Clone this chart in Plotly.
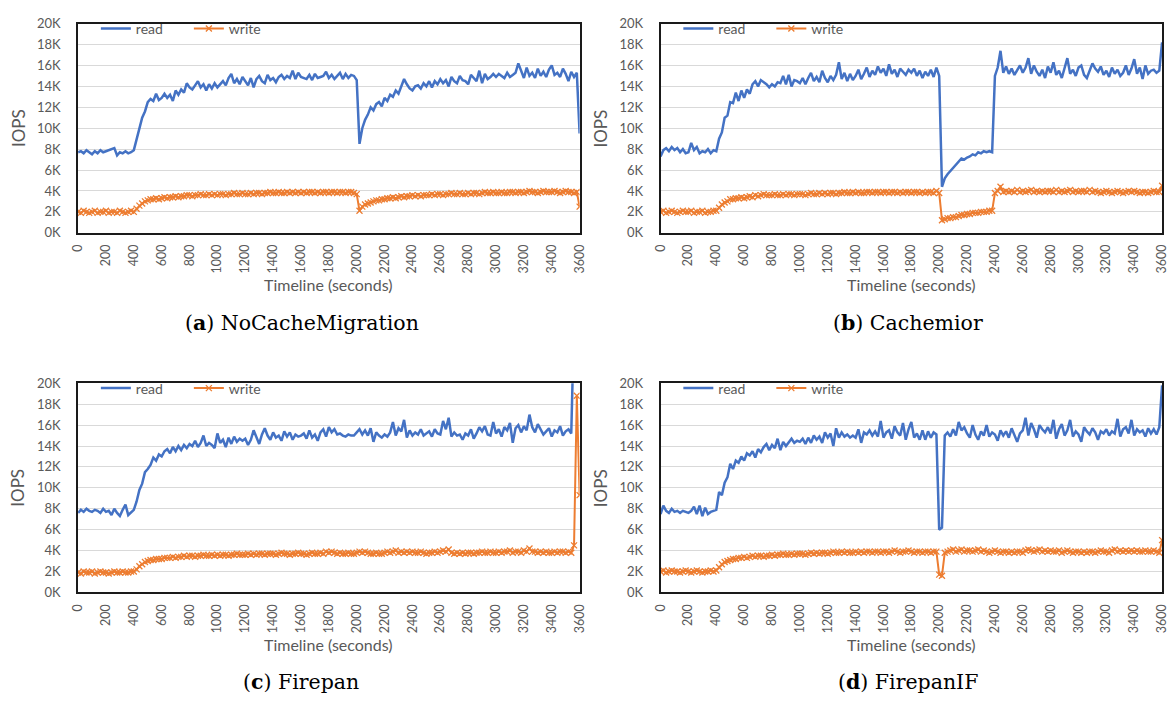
import plotly.graph_objects as go

W, H = 1176, 704

# time axis (seconds), one sample every 20 s
TIME = list(range(0, 3601, 20))
X_TICKS = list(range(0, 3601, 200))
Y_TICKS = list(range(0, 20001, 2000))
Y_TICK_TEXT = [f"{v // 1000}K" for v in Y_TICKS]

# (a) NoCacheMigration
a_read = [
    7700, 7800, 7600, 7900, 7700, 7500, 7800, 7600, 7900, 7700,
    7800, 7900, 8000, 8100, 7400, 7700, 7600, 7800, 7600, 7700,
    7900, 9000, 10000, 11000, 11600, 12500, 12800, 12600, 13300, 12700,
    12900, 13300, 12900, 13200, 12600, 13600, 13200, 13700, 13400, 14300,
    13900, 13700, 14100, 14500, 13900, 14200, 13600, 14200, 13800, 14300,
    13900, 14200, 14500, 14100, 14800, 15200, 14300, 14700, 14200, 14900,
    14500, 14100, 14800, 13900, 14700, 15000, 14500, 14300, 15100, 14600,
    14800, 14400, 14900, 15100, 14700, 15000, 14800, 15500, 14700, 15300,
    14900, 14800, 14700, 15100, 14600, 15200, 14800, 14900, 15000, 15400,
    14800, 15100, 14700, 15000, 15300, 14700, 15200, 14800, 15100, 15000,
    14600, 8500, 10000, 10800, 11300, 12000, 11700, 12300, 12500, 12100,
    12900, 12600, 13200, 13000, 13600, 13300, 14000, 14700, 14200, 13800,
    13600, 14000, 14100, 13800, 14300, 14000, 14500, 13900, 14500, 14200,
    14700, 14300, 14600, 14000, 14900, 14500, 14300, 15000, 14600, 14500,
    14200, 15100, 14800, 14500, 15500, 14300, 15200, 14700, 14900, 15200,
    14900, 15200, 15000, 14800, 15300, 14900, 15100, 15300, 16200, 15500,
    14800, 15800, 15000, 15300, 14800, 15700, 15000, 15400, 14900, 15600,
    16000, 15100, 15300, 14900, 15700, 15200, 14500, 15400, 14900, 15300,
    9500,
]
a_write = [
    2000, 1900, 2100, 2000, 1900, 2000, 2100, 1900, 2000, 2000,
    2100, 1900, 2000, 2000, 1900, 2100, 2000, 1900, 2000, 2100,
    2000, 2300, 2600, 2800, 3000, 3100, 3200, 3200, 3300, 3200,
    3300, 3400, 3300, 3400, 3400, 3500, 3400, 3500, 3500, 3600,
    3600, 3500, 3600, 3600, 3700, 3600, 3600, 3700, 3600, 3700,
    3600, 3700, 3700, 3600, 3700, 3700, 3800, 3700, 3700, 3800,
    3700, 3700, 3800, 3700, 3800, 3800, 3700, 3800, 3800, 3900,
    3800, 3800, 3900, 3800, 3800, 3900, 3800, 3900, 3800, 3900,
    3800, 3900, 3800, 3900, 3900, 3800, 3900, 3800, 3900, 3900,
    3800, 3900, 3900, 3800, 3900, 3900, 3800, 3900, 3900, 3800,
    3700, 2100, 2500, 2700, 2800, 2900, 3000, 3100, 3100, 3200,
    3200, 3300, 3300, 3400, 3300, 3400, 3500, 3400, 3500, 3500,
    3600, 3500, 3600, 3500, 3600, 3600, 3600, 3700, 3600, 3700,
    3700, 3600, 3700, 3700, 3800, 3700, 3700, 3800, 3700, 3700,
    3800, 3700, 3800, 3800, 3700, 3800, 3900, 3800, 3800, 3900,
    3800, 3800, 3900, 3800, 3800, 3900, 3900, 3800, 3900, 3900,
    3800, 3900, 4000, 3900, 3900, 3800, 3900, 4000, 3900, 3900,
    3900, 4000, 3900, 3800, 3900, 4000, 3900, 3900, 3800, 3900,
    2500,
]

# (b) Cachemior
b_read = [
    7300, 7900, 8100, 7800, 8200, 7900, 8100, 7700, 8000, 7600,
    7700, 8600, 7900, 8200, 7600, 7800, 7700, 8000, 7600, 7900,
    7800, 9000, 9600, 11000, 11200, 12500, 12400, 13400, 12600, 13600,
    12900, 13700, 13300, 14200, 14500, 14000, 14600, 14400, 14200, 13900,
    14200, 14000, 14400, 14300, 15000, 14200, 15100, 14000, 14600, 14500,
    14300, 14800, 14200, 14800, 15300, 14500, 14900, 14400, 15500, 14800,
    14400, 15000, 14600, 15100, 16300, 14700, 15300, 14500, 15200, 14600,
    15000, 15600, 14700, 15200, 15800, 14900, 15500, 15100, 15900, 15300,
    15700, 15000, 16100, 15200, 15600, 14900, 15700, 15400, 15100, 15600,
    15300, 15700, 15000, 15500, 14800, 15400, 15000, 15600, 14900, 15800,
    15000, 4400, 5200, 5600, 5900, 6200, 6500, 6900, 7100, 7000,
    7200, 7300, 7500, 7400, 7700, 7600, 7800, 7700, 7800, 7700,
    15000, 15800, 17400, 15300, 15900, 15200, 15700, 15100, 15600, 16000,
    15300, 15800, 16700, 15200, 16000, 15400, 15000, 15600, 14800, 15900,
    15300, 16300, 15100, 15500, 14800, 15700, 16700, 15200, 15600, 15000,
    15800, 16000, 15100, 14800, 15500, 16200, 15700, 15400, 15900, 15100,
    15500, 14900, 15800, 15200, 15600, 15000, 15300, 16000, 15100, 15700,
    16600, 15200, 15800, 14700, 16000, 15200, 15500, 15600, 15300, 15500,
    18200,
]
b_write = [
    2000, 2100, 1900, 2000, 2100, 2000, 1900, 2000, 2100, 2000,
    2000, 2100, 1900, 2000, 2000, 2100, 1900, 2000, 2000, 2100,
    2100, 2400, 2700, 2900, 3000, 3200, 3200, 3300, 3300, 3400,
    3300, 3400, 3500, 3400, 3600, 3500, 3600, 3700, 3600, 3600,
    3600, 3700, 3600, 3600, 3700, 3600, 3700, 3700, 3600, 3700,
    3700, 3700, 3600, 3700, 3800, 3700, 3700, 3800, 3700, 3800,
    3700, 3800, 3800, 3700, 3800, 3800, 3900, 3800, 3800, 3900,
    3800, 3900, 3800, 3800, 3900, 3900, 3800, 3900, 3900, 3800,
    3900, 3900, 3800, 3900, 3900, 3800, 3900, 3800, 3900, 3900,
    3800, 3900, 3900, 3800, 3900, 3800, 3900, 3900, 3800, 4000,
    3800, 1200, 1300, 1400, 1400, 1500, 1500, 1600, 1700, 1700,
    1800, 1800, 1900, 1900, 1900, 2000, 2000, 2000, 2100, 2100,
    3800, 4000, 4400, 3900, 4000, 3900, 4000, 3900, 4100, 3900,
    4000, 3900, 4000, 4100, 3900, 4000, 3900, 4000, 3900, 4000,
    4000, 3900, 4100, 3900, 4000, 3900, 4000, 4100, 3900, 4000,
    3900, 4000, 4000, 3900, 4100, 3900, 4000, 3900, 3800, 3900,
    4000, 3900, 3800, 3900, 4000, 3900, 3800, 3900, 4000, 3900,
    4000, 3900, 3800, 3900, 3900, 3800, 3900, 4000, 3900, 3900,
    4500,
]

# (c) Firepan
c_read = [
    7600, 7900, 7700, 8000, 7800, 7700, 7900, 7800, 7600, 8000,
    7700, 7800, 7400, 8000, 7600, 7300, 7900, 8400, 7400, 7700,
    7900, 8700, 9800, 10400, 11500, 11800, 12200, 12900, 12600, 13200,
    13000, 13500, 13700, 13300, 13900, 13500, 14000, 13600, 14100, 13800,
    14200, 14000, 14500, 13900, 14300, 15000, 14000, 14300, 14100, 13800,
    15200, 14300, 14600, 13900, 14800, 14200, 14900, 14400, 14700, 14500,
    14700, 14100, 14600, 15500, 14800, 14200, 15100, 15700, 15000, 14600,
    15300, 14800, 15000, 14500, 15400, 14900, 15300, 14600, 15100, 14900,
    15000, 15200, 14700, 15500, 14800, 15100, 14500, 15300, 15600, 14900,
    15800, 15300, 15600, 15100, 15200, 15000, 14900, 15100, 15000, 15000,
    15300, 15600, 15100, 15500, 15000, 15700, 14400, 15300, 15000, 14800,
    15100, 14900, 15300, 16300, 15000, 15700, 15400, 16500, 14800, 15500,
    15000, 15300, 15100, 15600, 15000, 15200, 15400, 14900, 15600, 15200,
    15100, 16400, 15600, 16700, 14900, 15300, 15000, 15100, 14600, 15200,
    15000, 15600, 14700, 15200, 15800, 15400, 15900, 15100, 15000, 16300,
    15200, 15600, 14900, 15800, 15500, 16200, 14300, 15700, 16000, 15300,
    15900, 15500, 17000, 15800, 15300, 16100, 15600, 15100, 15400, 15700,
    14900, 15500, 15300, 15900, 15000, 15400, 15600, 15200, 26000, 30000,
    30000,
]
c_write = [
    1900, 1800, 2000, 1900, 1900, 2000, 1800, 1900, 2000, 1900,
    1900, 1800, 1900, 2000, 1900, 1900, 2000, 1900, 1900, 2000,
    2000, 2200, 2500, 2700, 2900, 3000, 3100, 3100, 3200, 3200,
    3200, 3300, 3300, 3300, 3400, 3300, 3400, 3400, 3500, 3400,
    3500, 3500, 3400, 3500, 3500, 3600, 3500, 3500, 3600, 3500,
    3600, 3500, 3600, 3600, 3500, 3600, 3600, 3700, 3600, 3600,
    3600, 3700, 3600, 3700, 3600, 3700, 3700, 3600, 3700, 3700,
    3700, 3600, 3700, 3800, 3700, 3700, 3600, 3700, 3700, 3800,
    3700, 3700, 3600, 3700, 3800, 3700, 3700, 3800, 3700, 3900,
    3800, 3900, 3800, 3700, 3800, 3700, 3700, 3800, 3700, 3700,
    3800, 3900, 3800, 3900, 3800, 3700, 3700, 3800, 3700, 3700,
    3800, 3900, 3800, 3900, 4000, 3800, 3900, 3800, 3900, 3800,
    3900, 3800, 3800, 3900, 3800, 3700, 3800, 3800, 3900, 3800,
    3900, 4000, 3900, 4100, 3800, 3700, 3800, 3700, 3800, 3700,
    3800, 3800, 3700, 3800, 3800, 3900, 3800, 3800, 3900, 3800,
    3800, 3900, 3800, 3900, 3900, 4000, 3800, 3900, 3900, 3800,
    4000, 3900, 4200, 3900, 3900, 3800, 3900, 3800, 3900, 3800,
    3800, 3900, 3800, 3900, 3900, 3800, 3900, 3800, 4500, 18800,
    9300,
]

# (d) FirepanIF
d_read = [
    7500, 8300, 7800, 7600, 8000, 7700, 7800, 7600, 7800, 7700,
    7600, 7800, 8200, 7500, 8300, 7300, 8100, 7500, 7700, 7800,
    7900, 9600, 9300, 10500, 11000, 12300, 11800, 12600, 12400, 13000,
    12600, 13300, 13100, 13500, 12900, 13700, 13400, 13900, 14200, 13600,
    14100, 13800, 14700, 13600, 14400, 14000, 14300, 14700, 14300, 14500,
    14400, 14700, 14200, 14800, 14300, 15000, 14600, 14900, 14300, 15300,
    14800, 15200, 14000, 15700, 14800, 15300, 14900, 15100, 14800, 15000,
    14800, 15600, 14300, 15300, 15100, 15500, 15000, 15400, 14900, 16400,
    14800, 15300, 15500, 14700, 15900, 15300, 15000, 16200, 14600, 15600,
    16300, 14800, 15200, 14600, 15500, 14600, 15400, 14800, 15300, 15100,
    6000, 6200, 15000, 15300, 14900, 15600, 15000, 16300, 15500, 15800,
    15200, 14800, 16000, 15100, 14600, 15400, 15000, 16000, 14900, 15300,
    15100, 14500, 15500, 15000, 15400, 14800, 15700, 15100, 14400, 15200,
    15500, 16700, 15000, 16200, 15600, 14800, 16000, 15600, 15300, 15800,
    15200, 16500, 14700, 15600, 16100, 15000, 15500, 16500, 14900, 15400,
    15100, 14400, 15800, 15400, 15100, 15700, 15300, 14600, 15400, 15200,
    15600, 15000, 15400, 15200, 16600, 14900, 15600, 15800, 15200, 16500,
    15000, 15600, 15300, 15500, 14900, 15700, 15200, 15600, 15100, 15800,
    19800,
]
d_write = [
    2000, 2100, 1900, 2000, 2100, 2000, 2000, 1900, 2000, 2100,
    2000, 1900, 2000, 2100, 2000, 1900, 2000, 2000, 2100, 2000,
    2100, 2400, 2700, 2900, 3000, 3100, 3200, 3200, 3300, 3300,
    3400, 3300, 3400, 3500, 3400, 3500, 3500, 3400, 3500, 3500,
    3600, 3500, 3600, 3600, 3700, 3600, 3600, 3700, 3600, 3700,
    3700, 3700, 3600, 3700, 3800, 3700, 3800, 3700, 3800, 3800,
    3700, 3800, 3900, 3800, 3800, 3900, 3800, 3900, 3800, 3800,
    3900, 3800, 3900, 3800, 3900, 3900, 3800, 3900, 3900, 3800,
    3900, 3900, 3800, 3900, 4000, 3900, 3800, 3900, 3900, 4000,
    3900, 3800, 3900, 3900, 3800, 3900, 3900, 3800, 3900, 3900,
    1700, 1600, 3800, 3900, 4000, 4100, 3900, 4000, 4100, 3900,
    4000, 4000, 3900, 4000, 4100, 3900, 4000, 3900, 3800, 3900,
    4000, 3900, 3800, 3900, 3900, 3800, 3900, 3800, 3900, 3900,
    3800, 4000, 4100, 4000, 3900, 4000, 4100, 3900, 4000, 3900,
    4000, 3900, 3900, 4000, 3800, 3900, 4000, 3900, 3800, 3900,
    3900, 3800, 3900, 3800, 3900, 3900, 3800, 3900, 4000, 3900,
    3900, 3800, 4000, 4100, 3900, 4000, 3900, 4000, 3900, 4000,
    3900, 4000, 3900, 3900, 4000, 3900, 3900, 4000, 3900, 3800,
    5000,
]

CAPTIONS = ["(<b>a</b>) NoCacheMigration", "(<b>b</b>) Cachemior",
            "(<b>c</b>) Firepan", "(<b>d</b>) FirepanIF"]
SERIES_NAMES = ["read", "write"]

panels = [(a_read, a_write), (b_read, b_write), (c_read, c_write), (d_read, d_write)]

BLUE = "#4472C4"
ORANGE = "#ED7D31"
GRAY_TXT = "#595959"
FONT = "Lato"

# plot-area boxes in pixels (left, right, top, bottom)
boxes = [(71, 579, 16, 230), (661, 1169, 16, 230),
         (71, 579, 384, 598), (661, 1169, 384, 598)]
caption_pos = [(298, 322), (912, 322), (297, 690), (912, 690)]


def px_x(v):
    return v / W


def px_y(v):
    return 1 - v / H


fig = go.Figure()
annotations = []
shapes = []
for i, ((rd, wr), (l, r, t, b)) in enumerate(zip(panels, boxes)):
    n = "" if i == 0 else str(i + 1)
    lg = "legend" if i == 0 else f"legend{i + 1}"
    fig.add_trace(go.Scatter(
        x=TIME, y=rd, name=SERIES_NAMES[0], mode="lines",
        line=dict(color=BLUE, width=2.5), xaxis="x" + n, yaxis="y" + n, legend=lg))
    fig.add_trace(go.Scatter(
        x=TIME, y=wr, name=SERIES_NAMES[1], mode="lines+markers",
        line=dict(color=ORANGE, width=2),
        marker=dict(symbol="x-thin", size=6, line=dict(color=ORANGE, width=1.3), color=ORANGE),
        xaxis="x" + n, yaxis="y" + n, legend=lg))
    fig.update_layout(**{
        "xaxis" + n: dict(
            domain=[px_x(l), px_x(r)], range=[0, 3600], tickvals=X_TICKS, tickangle=-90,
            tickfont=dict(family=FONT, size=12.5, color=GRAY_TXT),
            showgrid=False, showline=True, mirror=True, linecolor="#1a1a1a", linewidth=1.5,
            zeroline=False, ticks="", ticklabelstandoff=5, anchor="y" + n, fixedrange=True),
        "yaxis" + n: dict(
            domain=[px_y(b), px_y(t)], range=[0, 20000], tickvals=Y_TICKS, ticktext=Y_TICK_TEXT,
            tickfont=dict(family=FONT, size=13, color=GRAY_TXT),
            showgrid=True, gridcolor="#d9d9d9", gridwidth=1,
            showline=True, mirror=True, linecolor="#1a1a1a", linewidth=1.5,
            zeroline=False, ticks="", ticklabelstandoff=13, anchor="x" + n, fixedrange=True),
        lg: dict(
            orientation="h", x=px_x(l + 18), xanchor="left", y=px_y(t - 11), yanchor="top",
            bgcolor="rgba(0,0,0,0)", font=dict(family=FONT, size=14, color=GRAY_TXT),
            itemwidth=30, entrywidth=48, entrywidthmode="pixels", tracegroupgap=0),
    })
    # white band behind the legend, hiding the 18K gridline as in the original
    shapes.append(dict(
        type="rect", xref="paper", yref="paper", layer="between",
        x0=px_x(l + 3), x1=px_x(l + 215), y0=px_y(t + 26), y1=px_y(t + 2),
        fillcolor="white", line=dict(width=0)))
    # axis titles
    annotations.append(dict(
        text="Timeline (seconds)", x=px_x((l + r) / 2), y=px_y(b + 53),
        xref="paper", yref="paper", showarrow=False, xanchor="center", yanchor="middle",
        font=dict(family=FONT, size=16, color=GRAY_TXT)))
    annotations.append(dict(
        text="IOPS", x=px_x(l - 61), y=px_y((t + b) / 2), textangle=-90,
        xref="paper", yref="paper", showarrow=False, xanchor="center", yanchor="middle",
        font=dict(family=FONT, size=17, color=GRAY_TXT)))
    cx, cy = caption_pos[i]
    annotations.append(dict(
        text=CAPTIONS[i], x=px_x(cx), y=px_y(cy), xref="paper", yref="paper",
        showarrow=False, xanchor="center", yanchor="middle",
        font=dict(family="DejaVu Serif", size=20.5, color="black")))

fig.update_layout(
    width=W, height=H, margin=dict(l=0, r=0, t=0, b=0),
    paper_bgcolor="white", plot_bgcolor="white",
    annotations=annotations, shapes=shapes, showlegend=True,
)

fig.write_html("out.html")
